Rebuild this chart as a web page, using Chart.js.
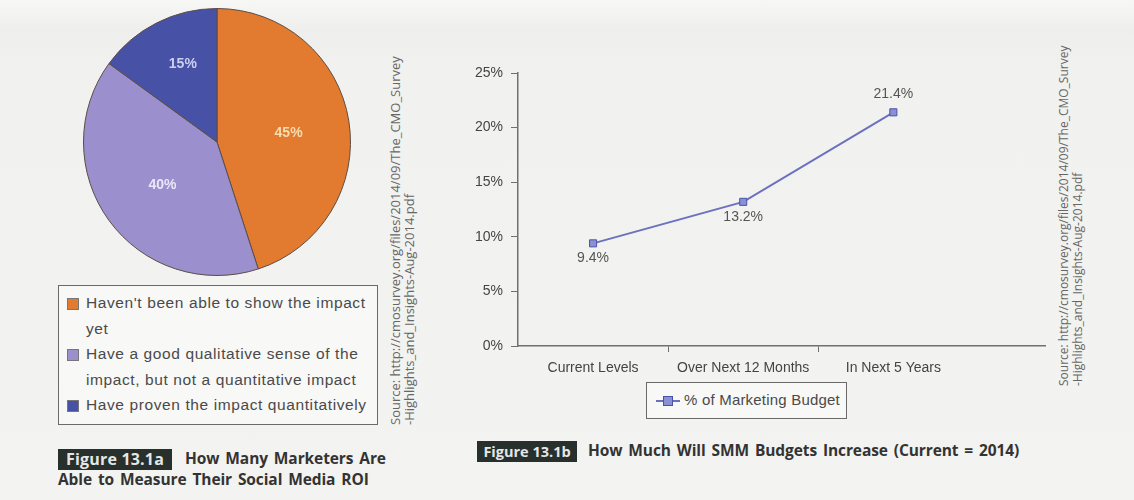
<!DOCTYPE html>
<html>
<head>
<meta charset="utf-8">
<script src="https://cdn.jsdelivr.net/npm/chart.js@4.4.1/dist/chart.umd.min.js"></script>
<style>
  body { margin: 0; background: #f2f2f0; }
  #page { position: relative; width: 1134px; height: 500px; overflow: hidden;
          background: linear-gradient(#f7f7f6 0px, #eeeeec 30px, #f1f1ef 70px, #f3f3f1 500px); }
  .abs { position: absolute; }
  #pieWrap { left: 83px; top: 8px; width: 268px; height: 268px; }
  #lineWrap { left: 440px; top: 55px; width: 615px; height: 323px; }
  .pieLegend { left: 58px; top: 285px; width: 318px; height: 138px; border: 1.5px solid #6a6a6a;
               background: #f8f8f7; font: 15.5px "Liberation Sans", Arial, sans-serif; color: #4a4a4a;
               letter-spacing: 0.6px; }
  .pieLegend .item { position: absolute; left: 8px; line-height: 25px; }
  .pieLegend .sw { position: absolute; left: 0; top: 8px; width: 10px; height: 10px; border: 1px solid #777; }
  .pieLegend .tx { position: absolute; left: 19px; white-space: nowrap; }
  .lineLegend { left: 646px; top: 382px; width: 199px; height: 35px; border: 1.5px solid #6a6a6a;
                background: #f8f8f7; font: 15px "Liberation Sans", Arial, sans-serif; color: #4a4a4a;
                letter-spacing: 0.2px; }
  .fig { height: 21px; background: #27302c; color: #e6e6e6; font: 700 16px "Open Sans", sans-serif;
         line-height: 21px; text-align: center; letter-spacing: 0.2px; white-space: nowrap; }
  .cap { font: 700 15.5px "Open Sans", sans-serif; color: #333; white-space: nowrap; letter-spacing: -0.1px;
         word-spacing: 2px; }
  .src { transform-origin: 0 0; transform: rotate(-90deg); white-space: nowrap;
         font: 13px "Open Sans", sans-serif; color: #666; line-height: 14px; }
</style>
</head>
<body>
<div id="page">
  <div id="pieWrap" class="abs"><canvas id="pie"></canvas></div>
  <div id="lineWrap" class="abs"><canvas id="line"></canvas></div>

  <div class="abs pieLegend" id="pieLegend"></div>

  <div class="abs lineLegend">
    <div class="abs" style="left:9px; top:17px; width:24px; height:2px; background:#6b70c0;"></div>
    <div class="abs" style="left:16px; top:13px; width:8px; height:8px; background:#8a90d4; border:1px solid #4a52a8;"></div>
    <div class="abs" style="left:37px; top:8px; white-space:nowrap;" id="lineLegendText"></div>
  </div>

  <div class="abs fig" style="left:58px; top:449px; width:114px;">Figure 13.1a</div>
  <div class="abs cap" style="left:185px; top:447px;">How Many Marketers Are</div>
  <div class="abs cap" style="left:58px; top:468px;">Able to Measure Their Social Media ROI</div>

  <div class="abs fig" style="left:477px; top:441px; width:100px; font-size:14.5px; letter-spacing:0;">Figure 13.1b</div>
  <div class="abs cap" style="left:588px; top:439px;">How Much Will SMM Budgets Increase (Current = 2014)</div>

  <div class="abs src" style="left:388px; top:425px;">Source: http://cmosurvey.org/files/2014/09/The_CMO_Survey<br>-Highlights_and_Insights-Aug-2014.pdf</div>
  <div class="abs src" style="left:1057px; top:386px; font-size:12px;">Source: http://cmosurvey.org/files/2014/09/The_CMO_Survey<br>-Highlights_and_Insights-Aug-2014.pdf</div>
</div>

<script>
// Figure 13.1a
const pieLabels = [
  "Haven't been able to show the impact yet",
  "Have a good qualitative sense of the impact, but not a quantitative impact",
  "Have proven the impact quantitatively"
];
const pieLegendLines = [
  ["Haven't been able to show the impact", "yet"],
  ["Have a good qualitative sense of the", "impact, but not a quantitative impact"],
  ["Have proven the impact quantitatively"]
];
const pieValues = [45, 40, 15];
const pieColors = ['#e27b2f', '#9c8fcd', '#4751a6'];
const pieTextColors = ['#f6dcb0', '#ebe7f7', '#ccd0f0'];

// Figure 13.1b
const lineCategories = ['Current Levels', 'Over Next 12 Months', 'In Next 5 Years'];
const budgetValues = [9.4, 13.2, 21.4];
const seriesName = '% of Marketing Budget';
const yTicks = [0, 5, 10, 15, 20, 25];

// legend for the pie (boxed, wrapped text)
const legendEl = document.getElementById('pieLegend');
let row = 0;
pieLegendLines.forEach((lines, i) => {
  const item = document.createElement('div');
  item.className = 'item';
  item.style.top = (4 + row * 25.5) + 'px';
  item.innerHTML = '<div class="sw" style="background:' + pieColors[i] + '"></div>' +
    lines.map((t, k) => '<div class="tx" style="top:' + (k * 25.5) + 'px">' + t + '</div>').join('');
  legendEl.appendChild(item);
  row += lines.length;
});
document.getElementById('lineLegendText').textContent = seriesName;

const pieText = {
  id: 'pieText',
  afterDatasetsDraw(chart) {
    const ctx = chart.ctx;
    const radial = [0.54, 0.52, 0.64];
    const shift = [0.04, -0.04, 0.06];
    chart.getDatasetMeta(0).data.forEach((arc, i) => {
      const mid = (arc.startAngle + arc.endAngle) / 2 + shift[i];
      const r = arc.outerRadius * radial[i];
      ctx.save();
      ctx.font = 'bold 14px "Liberation Sans", Arial, sans-serif';
      ctx.fillStyle = pieTextColors[i];
      ctx.textAlign = 'center';
      ctx.textBaseline = 'middle';
      ctx.fillText(pieValues[i] + '%', arc.x + Math.cos(mid) * r, arc.y + Math.sin(mid) * r);
      ctx.restore();
    });
  }
};

new Chart(document.getElementById('pie'), {
  type: 'pie',
  data: {
    labels: pieLabels,
    datasets: [{
      data: pieValues,
      backgroundColor: pieColors,
      borderColor: '#5b4d45',
      borderWidth: 1,
      hoverOffset: 0
    }]
  },
  options: {
    responsive: true,
    maintainAspectRatio: false,
    animation: false,
    plugins: { legend: { display: false }, tooltip: { enabled: false } }
  },
  plugins: [pieText]
});

const pointText = {
  id: 'pointText',
  afterDatasetsDraw(chart) {
    const ctx = chart.ctx;
    const below = [true, true, false];
    chart.getDatasetMeta(0).data.forEach((pt, i) => {
      ctx.save();
      ctx.font = '14px "Liberation Sans", Arial, sans-serif';
      ctx.fillStyle = '#555';
      ctx.textAlign = 'center';
      ctx.textBaseline = 'middle';
      ctx.fillText(budgetValues[i] + '%', pt.x, pt.y + (below[i] ? 15 : -18));
      ctx.restore();
    });
  }
};

new Chart(document.getElementById('line'), {
  type: 'line',
  data: {
    datasets: [{
      label: seriesName,
      data: budgetValues.map((v, i) => ({ x: i, y: v })),
      borderColor: '#6b70c0',
      borderWidth: 2,
      pointStyle: 'rect',
      pointRadius: 5,
      pointBackgroundColor: '#8a90d4',
      pointBorderColor: '#4a52a8',
      pointBorderWidth: 1,
      tension: 0
    }]
  },
  options: {
    responsive: true,
    maintainAspectRatio: false,
    animation: false,
    layout: { padding: { left: 18, top: 18, right: 10, bottom: 0 } },
    plugins: { legend: { display: false }, tooltip: { enabled: false } },
    scales: {
      x: {
        type: 'linear',
        min: -0.5,
        max: 3.01,
        afterBuildTicks: s => { s.ticks = [0, 0.5, 1, 1.5, 2].map(v => ({ value: v })); },
        afterFit: s => { s.height = 32; },
        border: { color: '#707070', width: 1.5 },
        grid: {
          drawOnChartArea: false,
          tickLength: 6,
          tickColor: c => Number.isInteger(c.tick.value) ? 'rgba(0,0,0,0)' : '#707070'
        },
        ticks: {
          autoSkip: false,
          maxRotation: 0,
          padding: 8,
          color: '#444',
          font: { family: '"Liberation Sans", Arial, sans-serif', size: 14 },
          callback: v => Number.isInteger(v) ? lineCategories[v] : ''
        }
      },
      y: {
        min: 0,
        max: 25,
        afterBuildTicks: s => { s.ticks = yTicks.map(v => ({ value: v })); },
        afterFit: s => { s.width = 60; },
        border: { color: '#707070', width: 1.5 },
        grid: { drawOnChartArea: false, tickLength: 7, tickColor: '#707070' },
        ticks: {
          padding: 8,
          color: '#444',
          font: { family: '"Liberation Sans", Arial, sans-serif', size: 14 },
          callback: v => v + '%'
        }
      }
    }
  },
  plugins: [pointText]
});
</script>
</body>
</html>
